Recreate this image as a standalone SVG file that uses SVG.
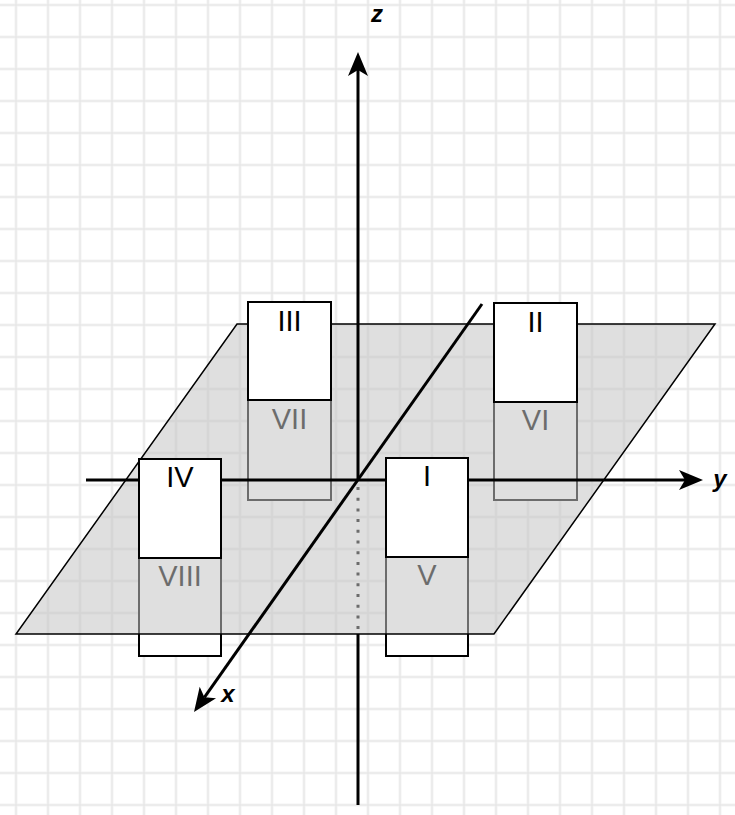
<svg xmlns="http://www.w3.org/2000/svg" width="735" height="815" viewBox="0 0 735 815">
<style>
.box{fill:#ffffff;stroke:#000000;stroke-width:2}
.lbl{font-family:"Liberation Sans",Arial,sans-serif;font-size:29px;fill:#000000;text-anchor:middle}
.axl{font-family:"Liberation Sans",Arial,sans-serif;font-size:24px;font-weight:bold;font-style:italic;fill:#000000;text-anchor:middle}
.axis{stroke:#000000;stroke-width:3;fill:none}
.plane{fill:#c4c4c4;fill-opacity:0.55;stroke:#000000;stroke-width:1.5}
</style>
<defs>
<pattern id="grid" patternUnits="userSpaceOnUse" x="0" y="-11" width="32" height="32">
<path d="M16,0 V32 M0,16 H32" stroke="#f4f4f4" stroke-width="3" fill="none"/>
<path d="M16,0 V32 M0,16 H32" stroke="#e4e4e4" stroke-width="1" fill="none"/>
</pattern>
<marker id="arrow" markerUnits="userSpaceOnUse" viewBox="0 -11 25 22" markerWidth="25" markerHeight="22" refX="6" refY="0" orient="auto">
<path d="M0,-10 L24,0 L0,10 L6,0 Z" fill="#000000"/>
</marker>
</defs>
<rect width="735" height="815" fill="#ffffff"/>
<rect width="735" height="815" fill="url(#grid)"/>

<g id="lower-boxes">
<g id="node-V"><rect class="box" x="386" y="557" width="82" height="99"/><text class="lbl" x="427" y="585">V</text></g>
<g id="node-VI"><rect class="box" x="494" y="402" width="83" height="98"/><text class="lbl" x="535.5" y="430">VI</text></g>
<g id="node-VII"><rect class="box" x="248" y="400" width="83" height="100"/><text class="lbl" x="289.5" y="429">VII</text></g>
<g id="node-VIII"><rect class="box" x="139" y="558" width="82" height="98"/><text class="lbl" x="180" y="586">VIII</text></g>
</g>

<g id="hidden-z">
<line x1="358" y1="487" x2="358" y2="634" stroke="#000000" stroke-width="3" stroke-dasharray="3 7.7"/>
</g>

<g id="plane">
<polygon class="plane" points="237,324 715,324 494,634 16,634"/>
</g>

<g id="connectors">
<line id="z-axis-top" class="axis" x1="358" y1="480" x2="358" y2="70" marker-end="url(#arrow)"/>
<line id="z-axis-bottom" class="axis" x1="358" y1="634" x2="358" y2="805"/>
<line id="y-axis" class="axis" x1="86" y1="480" x2="685" y2="480" marker-end="url(#arrow)"/>
<line id="x-axis" class="axis" x1="482" y1="304" x2="204.4" y2="697.3" marker-end="url(#arrow)"/>
</g>

<g id="upper-boxes">
<g id="node-I"><rect class="box" x="386" y="458" width="82" height="99"/><text class="lbl" x="427" y="486">I</text></g>
<g id="node-II"><rect class="box" x="494" y="303" width="83" height="99"/><text class="lbl" x="535.5" y="332">II</text></g>
<g id="node-III"><rect class="box" x="248" y="302" width="83" height="98"/><text class="lbl" x="289.5" y="331">III</text></g>
<g id="node-IV"><rect class="box" x="139" y="459" width="82" height="99"/><text class="lbl" x="180" y="487">IV</text></g>
</g>

<g id="axis-labels">
<text class="axl" x="377" y="22">z</text>
<text class="axl" x="720" y="487">y</text>
<text class="axl" x="228" y="702">x</text>
</g>
</svg>
